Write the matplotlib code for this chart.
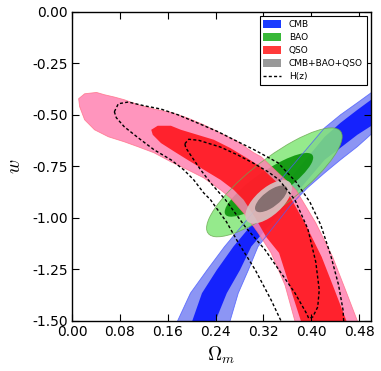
import numpy as np
import matplotlib
matplotlib.use("Agg")
import matplotlib.pyplot as plt
from matplotlib.patches import Ellipse, Patch
from matplotlib.lines import Line2D

plt.rcParams['mathtext.fontset'] = 'cm'

# contour boundaries, (Omega_m, w)
cmb_2s_om = [0.168, 0.176, 0.198, 0.226, 0.255, 0.336, 0.4225, 0.449, 0.477, 0.4955, 0.52,
             0.52, 0.4955, 0.477, 0.449, 0.4225, 0.394, 0.366, 0.311, 0.295, 0.278, 0.264, 0.259]
cmb_2s_w = [-1.55, -1.503, -1.365, -1.252, -1.139, -0.858, -0.562, -0.499, -0.441, -0.402, -0.35,
            -0.54, -0.606, -0.654, -0.7175, -0.781, -0.853, -0.936, -1.139, -1.252, -1.365, -1.503, -1.55]
cmb_1s_om = [0.195, 0.2007, 0.2173, 0.2422, 0.2699, 0.3445, 0.4225, 0.449, 0.4772, 0.4955, 0.52,
             0.52, 0.4955, 0.4772, 0.449, 0.4225, 0.3611, 0.2997, 0.281, 0.2588, 0.2395, 0.233]
cmb_1s_w = [-1.55, -1.503, -1.365, -1.252, -1.139, -0.878, -0.606, -0.538, -0.475, -0.436, -0.384,
            -0.516, -0.562, -0.596, -0.659, -0.7175, -0.927, -1.139, -1.252, -1.365, -1.503, -1.55]

qso_2s_om = [0.0111, 0.0211, 0.041, 0.0542, 0.0708, 0.0874, 0.1106, 0.1372, 0.1654, 0.1936, 0.2201,
             0.2483, 0.2766, 0.3031, 0.3163, 0.3744, 0.4076, 0.4358, 0.4573, 0.4772, 0.4839,
             0.3793, 0.3727, 0.3561, 0.3329, 0.3113, 0.2898, 0.2649, 0.2483, 0.2201, 0.1936,
             0.1654, 0.1372, 0.1106, 0.0874, 0.0609, 0.0377, 0.0211, 0.0128]
qso_2s_w = [-0.421, -0.397, -0.3905, -0.4017, -0.4129, -0.426, -0.4503, -0.4712, -0.4877, -0.5149, -0.5475,
            -0.5878, -0.6286, -0.6821, -0.703, -0.8633, -1.0237, -1.1889, -1.3492, -1.4998, -1.568,
            -1.568, -1.4998, -1.3249, -1.1694, -1.0722, -0.9848, -0.9022, -0.8633, -0.805, -0.7661,
            -0.7273, -0.6835, -0.6544, -0.6301, -0.6058, -0.5718, -0.5232, -0.46]
qso_1s_om = [0.1325, 0.1433, 0.1654, 0.182, 0.2097, 0.2372, 0.2649, 0.2926, 0.3147, 0.3611, 0.391,
             0.4175, 0.4391, 0.459, 0.464, 0.3893, 0.3827, 0.3644, 0.3462, 0.3246, 0.3064, 0.287,
             0.2704, 0.2483, 0.2206, 0.1931, 0.1708, 0.1488, 0.135]
qso_1s_w = [-0.5718, -0.5523, -0.5523, -0.5718, -0.5961, -0.6203, -0.6607, -0.7093, -0.7501, -0.8779, -1.0334,
            -1.1889, -1.3492, -1.4998, -1.568, -1.568, -1.4998, -1.3347, -1.1694, -1.0917, -0.9994, -0.9119,
            -0.8633, -0.8147, -0.7661, -0.7175, -0.6772, -0.6364, -0.5961]

hz_2s_om = [0.0708, 0.0775, 0.094, 0.1206, 0.1488, 0.177, 0.2102, 0.2433, 0.2766, 0.3047, 0.3445,
            0.3744, 0.3976, 0.4159, 0.4324, 0.4457, 0.4532, 0.4556, 0.3611, 0.3495, 0.3329, 0.3064,
            0.2782, 0.2583, 0.24, 0.2317, 0.2201, 0.2035, 0.1869, 0.1654, 0.1372, 0.1106, 0.0874, 0.0741]
hz_2s_w = [-0.4843, -0.4454, -0.4372, -0.4551, -0.4712, -0.4989, -0.5392, -0.58, -0.6286, -0.6689, -0.7321,
           -0.8244, -0.9216, -1.0334, -1.1792, -1.3249, -1.4464, -1.568, -1.568, -1.4998, -1.3978, -1.252,
           -1.1209, -1.0188, -0.9459, -0.9119, -0.8779, -0.8147, -0.7661, -0.7175, -0.6689, -0.6106, -0.5572, -0.5134]
hz_1s_om = [0.1886, 0.1952, 0.2118, 0.2483, 0.2765, 0.3031, 0.3279, 0.3462, 0.3727, 0.3943, 0.4076,
            0.4134, 0.4109, 0.4026, 0.3959, 0.3926, 0.386, 0.3727, 0.3495, 0.3229, 0.2898, 0.2566,
            0.2317, 0.2151, 0.2002, 0.1903]
hz_1s_w = [-0.6398, -0.6179, -0.6228, -0.6558, -0.6932, -0.7336, -0.7758, -0.8147, -0.9119, -1.0528, -1.2131,
           -1.3492, -1.4318, -1.4804, -1.4877, -1.4658, -1.4318, -1.3638, -1.2666, -1.1548, -1.0431, -0.9119,
           -0.8293, -0.7661, -0.703, -0.6592]

# ellipses: centre, half extent in Omega_m, half extent in w, correlation
bao_2s = [(0.3384, -0.827), 0.1134, 0.2644, 0.840]
bao_1s = [(0.3293, -0.839), 0.074, 0.1547, 0.853]
all_2s = [(0.3288, -0.9216), 0.039, 0.1054, 0.641]
all_1s = [(0.333, -0.907), 0.027, 0.0649, 0.698]


def ellipse(ax, pars, **kw):
    c, sx, sy, rho = pars
    cov = np.array([[sx * sx, rho * sx * sy], [rho * sx * sy, sy * sy]])
    vals, vecs = np.linalg.eigh(cov)
    ang = np.degrees(np.arctan2(vecs[1, 1], vecs[0, 1]))
    e = Ellipse(c, 2 * np.sqrt(vals[1]), 2 * np.sqrt(vals[0]), angle=ang, **kw)
    ax.add_patch(e)
    return e


fig = plt.figure(figsize=(3.81, 3.71), dpi=100)
ax = fig.add_axes([0.189, 0.1348, 0.7848, 0.8329])

a = 0.85
dash = (0, (2.2, 1.6))
# CMB
ax.fill(cmb_2s_om, cmb_2s_w, color='#7883f3', alpha=a, lw=0)
ax.fill(cmb_1s_om, cmb_1s_w, color='#000eff', alpha=a, lw=0)
# BAO
ellipse(ax, bao_2s, facecolor='#83e778', alpha=a, lw=0)
ellipse(ax, bao_1s, facecolor='#028f02', alpha=a, lw=0)
# QSO
ax.fill(qso_2s_om, qso_2s_w, color='#ff83b2', alpha=a, lw=0)
ax.fill(qso_1s_om, qso_1s_w, color='#ff0e14', alpha=a, lw=0)
# edges on top
ax.fill(cmb_2s_om, cmb_2s_w, fill=False, edgecolor='#4a5cff', lw=0.6, alpha=0.8)
ellipse(ax, bao_2s, fill=False, edgecolor='#6aa84f', lw=0.6, alpha=0.8)
ax.fill(qso_2s_om, qso_2s_w, fill=False, edgecolor='#ff6f86', lw=0.6, alpha=0.8)
# combined
ellipse(ax, all_2s, facecolor='#d6c1c1', alpha=0.92, lw=0)
ellipse(ax, all_1s, facecolor='#7f6a6a', alpha=0.92, lw=0)
# H(z)
ax.fill(hz_2s_om, hz_2s_w, fill=False, edgecolor='k', lw=1.0, linestyle=dash)
ax.fill(hz_1s_om, hz_1s_w, fill=False, edgecolor='k', lw=1.0, linestyle=dash)

ax.set_xlim(0, 0.5)
ax.set_ylim(-1.5, 0)
ax.set_xticks(np.arange(0, 0.49, 0.08))
ax.set_yticks([-1.5, -1.25, -1.0, -0.75, -0.5, -0.25, 0.0])
ax.xaxis.set_major_formatter(matplotlib.ticker.FormatStrFormatter('%.2f'))
ax.yaxis.set_major_formatter(matplotlib.ticker.FormatStrFormatter('%.2f'))
ax.tick_params(direction='in', top=True, right=True, length=5, width=0.8, labelsize=10, pad=3)
for s in ax.spines.values():
    s.set_linewidth(1.0)
ax.set_xlabel(r'$\Omega_m$', fontsize=14, labelpad=4)
ax.set_ylabel(r'$w$', fontsize=14, labelpad=6)

handles = [Patch(facecolor='#1a3cff', edgecolor='none'),
           Patch(facecolor='#38b838', edgecolor='none'),
           Patch(facecolor='#ff3a3a', edgecolor='none'),
           Patch(facecolor='#999999', edgecolor='none'),
           Line2D([], [], color='k', lw=1.0, linestyle=dash)]
labels = ['CMB', 'BAO', 'QSO', 'CMB+BAO+QSO', 'H(z)']
leg = ax.legend(handles, labels, loc='upper right', fontsize=6.5, fancybox=False,
                edgecolor='k', framealpha=1, handlelength=2.0, handleheight=0.9,
                handletextpad=0.85, labelspacing=0.45, borderaxespad=0.5)
leg.get_frame().set_linewidth(0.8)

fig.savefig('out.png', dpi=100)
